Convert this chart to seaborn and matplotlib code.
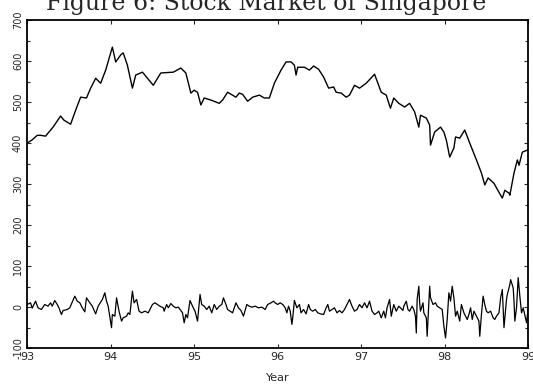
import matplotlib
matplotlib.use("Agg")
import matplotlib.pyplot as plt
import pandas as pd
import seaborn as sns
from matplotlib.ticker import MultipleLocator

# Stock index level
level_year = [93.00, 93.06, 93.12, 93.16, 93.22, 93.31, 93.40, 93.44, 93.52, 93.58,
              93.64, 93.71, 93.76, 93.82, 93.88, 93.94, 94.02, 94.06, 94.12, 94.15,
              94.20, 94.26, 94.30, 94.38, 94.51, 94.60, 94.75, 94.84, 94.90, 94.96,
              95.00, 95.04, 95.08, 95.12, 95.20, 95.30, 95.34, 95.40, 95.50, 95.54,
              95.58, 95.64, 95.70, 95.78, 95.84, 95.90, 95.96, 96.04, 96.10, 96.16,
              96.20, 96.22, 96.24, 96.32, 96.38, 96.43, 96.49, 96.55, 96.61, 96.67,
              96.70, 96.76, 96.82, 96.86, 96.92, 96.98, 97.06, 97.16, 97.24, 97.30,
              97.35, 97.39, 97.45, 97.52, 97.58, 97.64, 97.69, 97.71, 97.78, 97.82,
              97.83, 97.88, 97.95, 97.99, 98.02, 98.06, 98.11, 98.13, 98.18, 98.24,
              98.30, 98.38, 98.44, 98.48, 98.52, 98.59, 98.65, 98.69, 98.72, 98.77,
              98.78, 98.83, 98.87, 98.89, 98.93, 98.99]
level_value = [400, 408, 419, 419, 417, 439, 466, 456, 446, 480,
               512, 510, 534, 558, 546, 578, 634, 598, 615, 620,
               590, 534, 566, 573, 541, 571, 573, 583, 571, 522,
               529, 524, 493, 510, 505, 497, 505, 524, 512, 522,
               519, 502, 512, 517, 510, 510, 546, 578, 598, 598,
               590, 566, 585, 585, 578, 588, 580, 561, 534, 537,
               524, 522, 512, 517, 541, 534, 546, 568, 524, 517,
               485, 510, 497, 488, 497, 476, 439, 468, 461, 444,
               395, 427, 439, 427, 407, 366, 388, 415, 412, 432,
               400, 359, 327, 298, 315, 302, 280, 266, 285, 278,
               273, 327, 359, 346, 378, 383]

# Weekly changes (lower series)
chg_year = [93.00, 93.04, 93.06, 93.10, 93.13, 93.17, 93.21, 93.25, 93.28, 93.30,
            93.33, 93.36, 93.38, 93.41, 93.43, 93.48, 93.51, 93.57, 93.60, 93.63,
            93.66, 93.69, 93.71, 93.75, 93.78, 93.82, 93.85, 93.90, 93.93, 93.95,
            93.97, 94.01, 94.02, 94.05, 94.07, 94.10, 94.13, 94.15, 94.19, 94.21,
            94.23, 94.26, 94.28, 94.31, 94.34, 94.37, 94.41, 94.45, 94.50, 94.53,
            94.56, 94.59, 94.63, 94.64, 94.67, 94.69, 94.72, 94.75, 94.78, 94.81,
            94.84, 94.86, 94.88, 94.90, 94.92, 94.95, 94.98, 95.01, 95.04, 95.07,
            95.09, 95.12, 95.15, 95.18, 95.21, 95.24, 95.27, 95.30, 95.33, 95.35,
            95.38, 95.40, 95.43, 95.46, 95.50, 95.53, 95.56, 95.59, 95.63, 95.66,
            95.69, 95.73, 95.77, 95.81, 95.85, 95.88, 95.92, 95.95, 95.97, 96.00,
            96.03, 96.06, 96.09, 96.11, 96.13, 96.15, 96.17, 96.18, 96.20, 96.23,
            96.26, 96.28, 96.31, 96.34, 96.37, 96.39, 96.42, 96.45, 96.48, 96.51,
            96.55, 96.58, 96.60, 96.62, 96.65, 96.68, 96.71, 96.74, 96.77, 96.80,
            96.83, 96.86, 96.89, 96.92, 96.95, 96.98, 97.01, 97.04, 97.07, 97.10,
            97.13, 97.16, 97.19, 97.21, 97.24, 97.27, 97.29, 97.31, 97.34, 97.36,
            97.39, 97.42, 97.45, 97.47, 97.50, 97.51, 97.54, 97.56, 97.58, 97.61,
            97.63, 97.65, 97.66, 97.67, 97.69, 97.70, 97.71, 97.74, 97.75, 97.78,
            97.79, 97.82, 97.83, 97.86, 97.89, 97.91, 97.94, 97.97, 97.99, 98.01,
            98.03, 98.05, 98.07, 98.09, 98.11, 98.13, 98.15, 98.18, 98.20, 98.23,
            98.25, 98.27, 98.29, 98.31, 98.33, 98.35, 98.38, 98.41, 98.42, 98.44,
            98.46, 98.48, 98.50, 98.52, 98.55, 98.58, 98.60, 98.62, 98.65, 98.67,
            98.69, 98.71, 98.74, 98.75, 98.78, 98.79, 98.82, 98.83, 98.84, 98.86,
            98.88, 98.90, 98.92, 98.94, 98.98, 99.00]
chg_value = [6.5, 10.6, -2.4, 14.6, -1.6, -5.7, 6.5, 2.4, 10.6, 2.4,
             16.3, 6.5, -1.6, -17.9, -8.1, -5.7, -1.6, 26.8, 14.6, 10.6,
             -1.6, -11.4, 22.8, 10.6, 2.4, -16.3, 2.4, 18.7, 35, 14.6,
             2.4, -50, -17.9, -22, 22.8, -9.8, -34, -26, -22, -13.8,
             -17.9, 39, 10.6, 18.7, -9.8, -13.8, -9.8, -13.8, 6.5, 10.6,
             6.5, 2.4, -1.6, -9.8, 6.5, -1.6, 8.9, 2.4, -1.6, 0,
             -8.1, -13.8, -38, -17.9, -26, 16.3, 2.4, -9.8, -34, 31,
             6.5, 2.4, -5.7, 2.4, -13.8, 6.5, -5.7, 2.4, 6.5, 22.8,
             6.5, -5.7, -9.8, -13.8, 10.6, -1.6, -8.1, -22, 6.5, 2.4,
             0, 2.4, -1.6, 0, -5.7, 6.5, 10.6, 14.6, 10.6, 6.5,
             10.6, 6.5, -1.6, -13.8, 2.4, -9.8, -42, -26, 16.3, -1.6,
             6.5, -13.8, -5.7, -16.3, 6.5, -5.7, -9.8, -5.7, -13.8, -16.3,
             -17.9, -1.6, 6.5, -9.8, -5.7, -1.6, -13.8, -8.1, -13.8, -5.7,
             6.5, 18.7, 2.4, -9.8, -5.7, 6.5, -1.6, 10.6, -1.6, 14.6,
             -9.8, -17.9, -13.8, -9.8, -26, -9.8, -26, -1.6, 18.7, -22,
             6.5, -9.8, 2.4, -1.6, -8.1, 2.4, 14.6, -5.7, -9.8, 2.4,
             -5.7, -22, -63, 18.7, 51, 10.6, -9.8, 10.6, -13.8, -26,
             -71, 51, 22.8, 6.5, 10.6, 2.4, -1.6, -5.7, -46, -75,
             -30, 35, 14.6, 51, 22.8, -22, -9.8, -34, 6.5, -13.8,
             -22, -30, -17.9, -1.6, -30, -9.8, -22, -34, -71, -17.9,
             26.8, 6.5, -9.8, -13.8, -9.8, -26, -30, -22, -13.8, 22.8,
             43, -50, 18.7, 31, 55, 67, 47, 14.6, -34, -1.6,
             72, 26.8, -13.8, -1.6, -38, -1.6]

level = pd.DataFrame({"year": level_year, "value": level_value})
chg = pd.DataFrame({"year": chg_year, "value": chg_value})

sns.set_style("ticks")
plt.rcParams["font.family"] = ["DejaVu Sans"]
plt.rcParams["xtick.direction"] = "in"
plt.rcParams["ytick.direction"] = "in"

fig = plt.figure(figsize=(5.33, 3.86), dpi=100)
ax = fig.add_axes([0.051, 0.098, 0.940, 0.850])

sns.lineplot(data=level, x="year", y="value", color="black", linewidth=1.0,
             estimator=None, sort=False, ax=ax)
sns.lineplot(data=chg, x="year", y="value", color="black", linewidth=0.9,
             estimator=None, sort=False, ax=ax)

ax.set_xlim(93, 99)
ax.set_ylim(-100, 700)
ax.set_xticks(range(93, 100))
ax.set_xticklabels([str(y) for y in range(93, 100)], fontsize=8)
ax.set_yticks(range(-100, 701, 100))
ax.set_yticklabels([str(v) for v in range(-100, 701, 100)], fontsize=7,
                   rotation=90, va="center")
ax.yaxis.set_minor_locator(MultipleLocator(50))
ax.tick_params(which="both", top=True, right=True, length=3, width=0.8, pad=3)
ax.tick_params(which="minor", length=2)
for s in ax.spines.values():
    s.set_linewidth(1.3)
    s.set_color("black")

ax.set_xlabel("Year", fontsize=8, labelpad=8)
ax.set_ylabel("")

# title sits partly above the page edge, as in the scanned original
fig.text(0.5, 1 - 10 / 386, "Figure 6: Stock Market of Singapore",
         ha="center", va="baseline", fontsize=17, family="DejaVu Serif")

fig.savefig("out.png", dpi=100)
